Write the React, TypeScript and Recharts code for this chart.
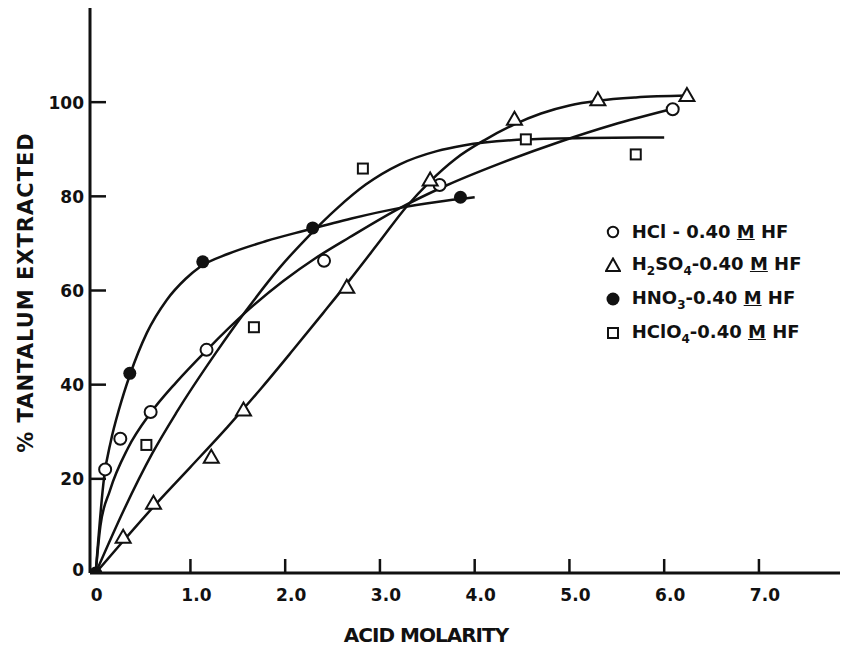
import React from 'react';
import { ComposedChart, Line, Scatter, XAxis, YAxis, Legend, Label } from 'recharts';

// ---- tick values and labels ----
const xTicks = [0, 1, 2, 3, 4, 5, 6, 7];
const xTickLabels = ['0', '1.0', '2.0', '3.0', '4.0', '5.0', '6.0', '7.0'];
const yTicks = [0, 20, 40, 60, 80, 100];
const yTickLabels = ['0', '20', '40', '60', '80', '100'];

// ---- measured points (markers) ----
const hclX = [0.1, 0.26, 0.58, 1.17, 2.41, 3.63, 6.09];
const hclY = [22, 28.5, 34.2, 47.4, 66.3, 82.4, 98.5];

const h2so4X = [0.29, 0.61, 1.22, 1.56, 2.65, 3.53, 4.42, 5.3, 6.24];
const h2so4Y = [7.7, 14.9, 24.7, 34.7, 60.8, 83.6, 96.5, 100.6, 101.5];

const hno3X = [0, 0.36, 1.13, 2.29, 3.85];
const hno3Y = [0, 42.4, 66.1, 73.3, 79.8];

const hclo4X = [0.535, 1.67, 2.82, 4.54, 5.7];
const hclo4Y = [27.2, 52.2, 85.9, 92.1, 88.9];

// ---- hand-drawn fitted curves ----
const hclCurveX = [0, 0.05, 0.15, 0.34, 0.58, 0.85, 1.17, 1.59, 1.98, 2.33, 2.68, 3.21, 3.7, 4.27, 4.9, 5.46, 6.05];
const hclCurveY = [0, 10, 17.5, 26.5, 34, 40.5, 47.3, 55.5, 62, 67, 71.3, 77.5, 82.3, 87, 91.6, 95.2, 98.4];

const h2so4CurveX = [0, 0.3, 0.62, 1.0, 1.39, 1.75, 2.08, 2.4, 2.68, 3.0, 3.28, 3.53, 3.8, 4.1, 4.42, 4.7, 5.0, 5.3, 5.7, 6.24];
const h2so4CurveY = [0, 7, 14.3, 22.5, 31, 39.3, 47.3, 55.2, 62.2, 70.5, 77.8, 83.2, 88, 91.9, 95.3, 97.6, 99.3, 100.3, 101, 101.4];

const hno3CurveX = [0, 0.09, 0.16, 0.25, 0.36, 0.54, 0.75, 0.95, 1.1, 1.4, 1.8, 2.2, 2.7, 3.2, 3.6, 4.0];
const hno3CurveY = [0, 20.5, 28, 35, 42, 51, 58, 62.5, 65, 67.8, 70.5, 72.7, 75.3, 77.5, 78.8, 79.8];

const hclo4CurveX = [0, 0.3, 0.6, 0.85, 1.27, 1.59, 1.94, 2.23, 2.55, 2.85, 3.21, 3.6, 3.88, 4.55, 5.2, 6.0];
const hclo4CurveY = [0, 13.5, 25.5, 34, 46.8, 55.8, 64.8, 71.2, 77.5, 82.5, 86.8, 89.6, 90.8, 92.1, 92.4, 92.5];

// ---- legend ----
const legendFormulas = ['HCl', 'H2SO4', 'HNO3', 'HClO4'];
const legendMarkers = ['openCircle', 'openTriangle', 'filledCircle', 'openSquare'];

const zip = (xs: number[], ys: number[]) => xs.map((x, i) => ({ x, y: ys[i] }));

const hclPts = zip(hclX, hclY);
const h2so4Pts = zip(h2so4X, h2so4Y);
const hno3Pts = zip(hno3X, hno3Y);
const hclo4Pts = zip(hclo4X, hclo4Y);
const hclCurve = zip(hclCurveX, hclCurveY);
const h2so4Curve = zip(h2so4CurveX, h2so4CurveY);
const hno3Curve = zip(hno3CurveX, hno3CurveY);
const hclo4Curve = zip(hclo4CurveX, hclo4CurveY);

const INK = '#111';
const FONT = '"DejaVu Sans", "Liberation Sans", sans-serif';

const OpenCircle = (p: any) => (
  <circle cx={p.cx} cy={p.cy} r={6} fill="#fff" stroke={INK} strokeWidth={2} />
);
const FilledCircle = (p: any) => <circle cx={p.cx} cy={p.cy} r={6.5} fill={INK} />;
const OpenTriangle = (p: any) => {
  const { cx, cy } = p;
  return (
    <polygon
      points={`${cx},${cy - 7} ${cx + 7.5},${cy + 6} ${cx - 7.5},${cy + 6}`}
      fill="#fff"
      stroke={INK}
      strokeWidth={2}
    />
  );
};
const OpenSquare = (p: any) => (
  <rect x={p.cx - 5} y={p.cy - 5} width={10} height={10} fill="#fff" stroke={INK} strokeWidth={2} />
);

const XTick = (props: any) => {
  const { x, y, payload } = props;
  const v = payload.value;
  const i = xTicks.indexOf(v);
  return (
    <g>
      {v !== 0 && <line x1={x} y1={y} x2={x} y2={y - 14} stroke={INK} strokeWidth={2.5} />}
      <text
        x={x + (v === 0 ? 1 : 6)}
        y={y + 28}
        textAnchor="middle"
        fontFamily={FONT}
        fontWeight={700}
        fontSize={17}
        fill={INK}
      >
        {xTickLabels[i]}
      </text>
    </g>
  );
};

const YTick = (props: any) => {
  const { x, y, payload } = props;
  const v = payload.value;
  const i = yTicks.indexOf(v);
  return (
    <g>
      {v !== 0 && <line x1={x} y1={y} x2={x + 16} y2={y} stroke={INK} strokeWidth={2.5} />}
      <text
        x={x - 6}
        y={y + 6.5 - (v === 0 ? 4 : 0)}
        textAnchor="end"
        fontFamily={FONT}
        fontWeight={700}
        fontSize={17}
        fill={INK}
      >
        {yTickLabels[i]}
      </text>
    </g>
  );
};

const Formula = ({ f }: { f: string }) => (
  <>
    {f.split(/(\d)/).map((part, k) =>
      /\d/.test(part) ? (
        <span key={k} style={{ fontSize: 12, position: 'relative', top: 5 }}>
          {part}
        </span>
      ) : (
        <span key={k}>{part}</span>
      )
    )}
  </>
);

const LegendMarker = ({ kind }: { kind: string }) => (
  <svg width={16} height={16} style={{ display: 'block' }}>
    {kind === 'openCircle' && <circle cx={8} cy={8} r={5.2} fill="#fff" stroke={INK} strokeWidth={2} />}
    {kind === 'filledCircle' && <circle cx={8} cy={8} r={6.5} fill={INK} />}
    {kind === 'openTriangle' && (
      <polygon points="8,1.5 15,14 1,14" fill="#fff" stroke={INK} strokeWidth={2} />
    )}
    {kind === 'openSquare' && <rect x={3} y={3} width={10} height={10} fill="#fff" stroke={INK} strokeWidth={2} />}
  </svg>
);

const renderLegend = () => (
  <div style={{ fontFamily: FONT, fontWeight: 700, fontSize: 18, color: INK }}>
    {legendFormulas.map((f, i) => (
      <div key={f} style={{ display: 'flex', alignItems: 'center', height: 33.8, whiteSpace: 'nowrap' }}>
        <LegendMarker kind={legendMarkers[i]} />
        <span style={{ marginLeft: 11, lineHeight: '34px' }}>
          <Formula f={f} />
          {i === 0 ? ' - ' : '-'}0.40 <span style={{ textDecoration: 'underline' }}>M</span> HF
        </span>
      </div>
    ))}
  </div>
);

export default function App() {
  return (
    <ComposedChart width={840} height={645} margin={{ top: 0, right: 0, bottom: 0, left: 0 }}>
      <XAxis
        dataKey="x"
        type="number"
        domain={[-0.06, 7.94]}
        allowDataOverflow
        ticks={xTicks}
        tick={<XTick />}
        tickLine={false}
        tickSize={0}
        tickMargin={0}
        height={80}
        axisLine={{ stroke: INK, strokeWidth: 3 }}
      >
        <Label
          content={() => (
            <text x={418} y={634} textAnchor="middle" fontFamily={FONT} fontWeight={700} fontSize={20} letterSpacing={-1} fill={INK}>
              ACID MOLARITY
            </text>
          )}
        />
      </XAxis>
      <YAxis
        dataKey="y"
        type="number"
        domain={[0, 120]}
        allowDataOverflow
        ticks={yTicks}
        tick={<YTick />}
        tickLine={false}
        tickSize={0}
        tickMargin={0}
        width={82}
        axisLine={{ stroke: INK, strokeWidth: 3 }}
      >
        <Label
          content={() => (
            <text
              x={17.5}
              y={284.5}
              transform="rotate(-90, 17.5, 284.5)"
              textAnchor="middle"
              dominantBaseline="central"
              fontFamily={FONT}
              fontWeight={700}
              fontSize={21}
              letterSpacing={1}
              fill={INK}
            >
              % TANTALUM  EXTRACTED
            </text>
          )}
        />
      </YAxis>

      <Line data={hclCurve} dataKey="y" type="monotone" stroke={INK} strokeWidth={2.5} dot={false} activeDot={false} isAnimationActive={false} legendType="none" />
      <Line data={h2so4Curve} dataKey="y" type="monotone" stroke={INK} strokeWidth={2.5} dot={false} activeDot={false} isAnimationActive={false} legendType="none" />
      <Line data={hno3Curve} dataKey="y" type="monotone" stroke={INK} strokeWidth={2.5} dot={false} activeDot={false} isAnimationActive={false} legendType="none" />
      <Line data={hclo4Curve} dataKey="y" type="monotone" stroke={INK} strokeWidth={2.5} dot={false} activeDot={false} isAnimationActive={false} legendType="none" />

      <Scatter data={hclPts} dataKey="y" shape={OpenCircle} isAnimationActive={false} />
      <Scatter data={h2so4Pts} dataKey="y" shape={OpenTriangle} isAnimationActive={false} />
      <Scatter data={hclo4Pts} dataKey="y" shape={OpenSquare} isAnimationActive={false} />
      <Scatter data={hno3Pts} dataKey="y" shape={FilledCircle} isAnimationActive={false} />

      <Legend
        layout="vertical"
        align="center"
        verticalAlign="middle"
        content={renderLegend}
        wrapperStyle={{ position: 'absolute', left: 596.7, top: 206.7, width: 240, height: 140 }}
      />
    </ComposedChart>
  );
}
